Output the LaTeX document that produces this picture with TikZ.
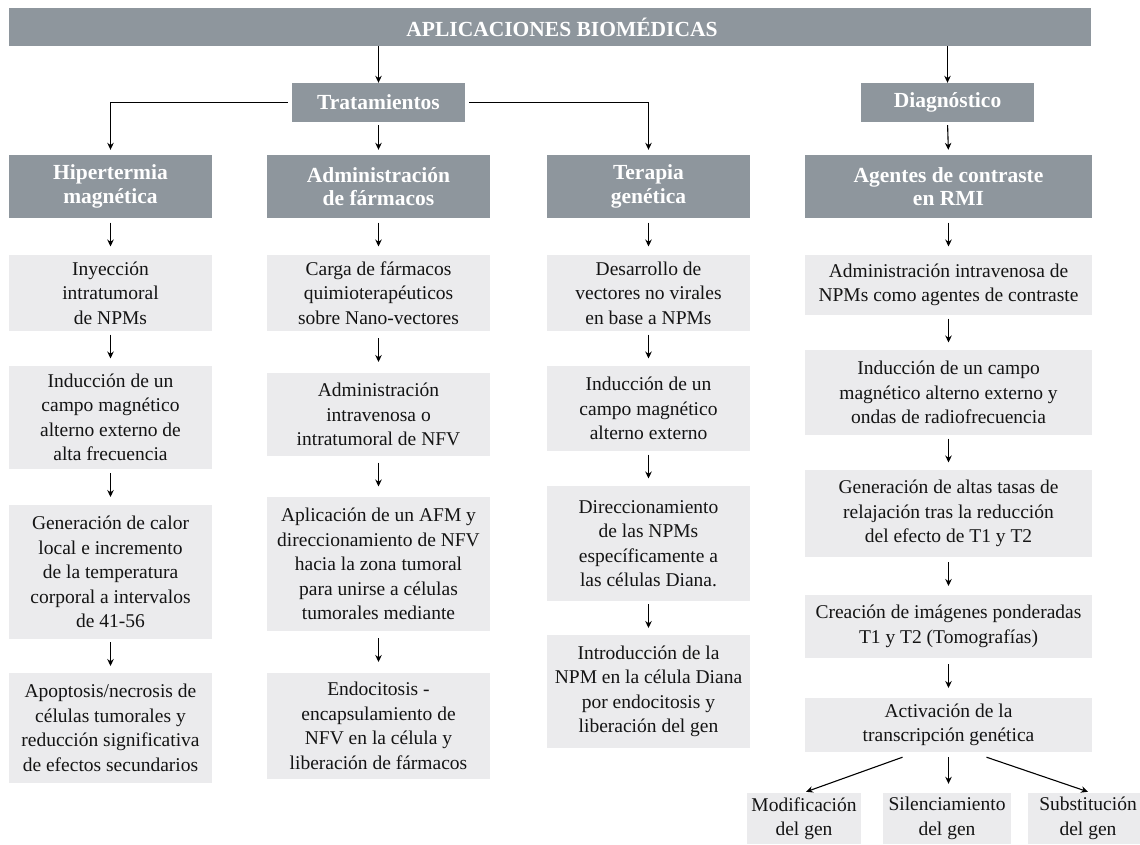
\documentclass[tikz,border=0pt]{standalone}
\usepackage{fontspec}
\setmainfont{Liberation Serif}
\usetikzlibrary{arrows.meta,calc}
\definecolor{hdr}{RGB}{142,150,157}
\definecolor{lt}{RGB}{235,235,237}
\definecolor{txt}{RGB}{20,20,20}
\tikzset{
  hbox/.style={fill=hdr, text=white, font=\fontsize{21.5}{23.5}\selectfont\bfseries, align=center, inner sep=0pt},
  lbox/.style={fill=lt, text=txt, font=\fontsize{19.5}{24.5}\selectfont, align=center, inner sep=0pt},
  sz/.style 2 args={minimum width=#1pt, minimum height=#2pt},
  arr/.style={-{Stealth[length=7pt,width=6.5pt]}, line width=1.1pt, draw=black},
}
\newcommand\dnarrow[2]{\draw[arr] ($(#1.south)!.5!(#2.north)+(0,-14)$) -- ($(#1.south)!.5!(#2.north)+(0,10)$);}
\begin{document}
\begin{tikzpicture}[x=1pt,y=-1pt]
\useasboundingbox (0,0) rectangle (1140,844);
\fill[white] (0,0) rectangle (1140,844);
% top level
\node[hbox, sz={1082}{38}] (top) at (550,27) {\hspace*{24pt}APLICACIONES BIOMÉDICAS};
\node[hbox, sz={173}{39}] (trat) at (378.5,102.5) {Tratamientos};
\node[hbox, sz={173}{39}] (diag) at (947.5,102.5) {Diagnóstico};
% headers
\node[hbox, sz={203}{63}] (hip) at (110.5,186.5) {Hipertermia\\magnética};
\node[hbox, sz={223}{63}] (adm) at (378.5,186.5) {Administración\\de fármacos};
\node[hbox, sz={203}{63}] (ter) at (648.5,186.5) {Terapia\\genética};
\node[hbox, sz={287}{63}] (ag) at (948.5,186.5) {Agentes de contraste\\en RMI};
% Hipertermia column
\node[lbox, sz={203}{76}] (h1) at (110.5,293) {Inyección\\intratumoral\\de NPMs};
\node[lbox, sz={203}{103}] (h2) at (110.5,417.5) {Inducción de un\\campo magnético\\alterno externo de\\alta frecuencia};
\node[lbox, sz={203}{134}] (h3) at (110.5,572) {Generación de calor\\local e incremento\\de la temperatura\\corporal a intervalos\\de 41-56};
\node[lbox, sz={203}{110}] (h4) at (110.5,728) {Apoptosis/necrosis de\\células tumorales y\\reducción significativa\\de efectos secundarios};
% Administracion column
\node[lbox, sz={223}{76}] (a1) at (378.5,293) {Carga de fármacos\\quimioterapéuticos\\sobre Nano-vectores};
\node[lbox, sz={223}{83}] (a2) at (378.5,414.5) {Administración\\intravenosa o\\intratumoral de NFV};
\node[lbox, sz={223}{134}] (a3) at (378.5,564) {Aplicación de un AFM y\\direccionamiento de NFV\\hacia la zona tumoral\\para unirse a células\\tumorales mediante};
\node[lbox, sz={223}{106}] (a4) at (378.5,726) {Endocitosis -\\encapsulamiento de\\NFV en la célula y\\liberación de fármacos};
% Terapia column
\node[lbox, sz={203}{76}] (t1) at (648.5,293) {Desarrollo de\\vectores no virales\\en base a NPMs};
\node[lbox, sz={203}{85}] (t2) at (648.5,408.5) {Inducción de un\\campo magnético\\alterno externo};
\node[lbox, sz={203}{115}] (t3) at (648.5,543.5) {Direccionamiento\\de las NPMs\\específicamente a\\las células Diana.};
\node[lbox, sz={203}{113}] (t4) at (648.5,691.5) {Introducción de la\\NPM en la célula Diana\\por endocitosis y\\liberación del gen};
% Agentes column
\node[lbox, sz={287}{60}] (g1) at (948.5,285) {Administración intravenosa de\\NPMs como agentes de contraste};
\node[lbox, sz={287}{85}] (g2) at (948.5,392.5) {Inducción de un campo\\magnético alterno externo y\\ondas de radiofrecuencia};
\node[lbox, sz={287}{87}] (g3) at (948.5,513.5) {Generación de altas tasas de\\relajación tras la reducción\\del efecto de T1 y T2};
\node[lbox, sz={287}{63}] (g4) at (948.5,626.5) {Creación de imágenes ponderadas\\T1 y T2 (Tomografías)};
\node[lbox, sz={287}{54}] (g5) at (948.5,725) {Activación de la\\transcripción genética};
% bottom
\node[lbox, sz={114}{51}] (mod) at (804,818.5) {Modificación\\del gen};
\node[lbox, sz={128}{51}] (sil) at (947,818.5) {Silenciamiento\\del gen};
\node[lbox, sz={120}{51}] (sub) at (1088,818.5) {Substitución\\del gen};
% connectors, top
\draw[arr] (top.south -| trat) -- (trat.north);
\draw[arr] (top.south -| diag) -- (diag.north);
\draw[arr, shorten <=3pt, shorten >=5pt] (trat.south) -- (adm.north);
\draw[arr, shorten <=4pt, shorten >=5pt] (trat.west) -| (hip.north);
\draw[arr, shorten <=4pt, shorten >=5pt] (trat.east) -| (ter.north);
\draw[arr, shorten <=3pt, shorten >=5pt] (diag.south) -- (ag.north);
% column arrows
\dnarrow{hip}{h1}\dnarrow{h1}{h2}\dnarrow{h2}{h3}\dnarrow{h3}{h4}
\dnarrow{adm}{a1}\dnarrow{a1}{a2}\dnarrow{a2}{a3}\dnarrow{a3}{a4}
\dnarrow{ter}{t1}\dnarrow{t1}{t2}\dnarrow{t2}{t3}\dnarrow{t3}{t4}
\dnarrow{ag}{g1}\dnarrow{g1}{g2}\dnarrow{g2}{g3}\dnarrow{g3}{g4}\dnarrow{g4}{g5}
% bottom arrows
\draw[arr] ($(g5.south)+(-46,5)$) -- ($(mod.north)+(2,-1)$);
\draw[arr] ($(g5.south)+(0,5)$) -- ($(g5.south |- sil.north)+(0,-9)$);
\draw[arr] ($(g5.south)+(38,5)$) -- ($(sub.north)+(0,-1)$);
\end{tikzpicture}
\end{document}
